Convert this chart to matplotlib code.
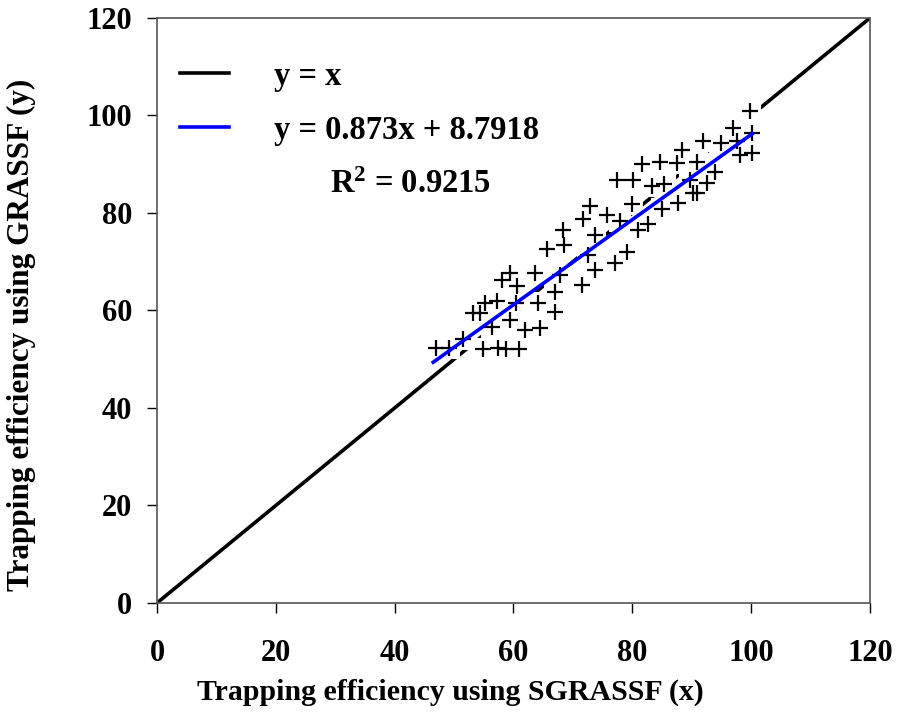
import matplotlib.pyplot as plt
import numpy as np

# values
sgrassf_x = [47.0, 49.2, 51.5, 54.9, 58.8, 60.9, 56.4, 59.4, 57.2, 60.4,
             60.6, 54.4, 64.5, 67.0, 67.0, 63.6, 67.8, 71.5, 65.7, 68.5,
             68.4, 71.7, 72.9, 73.7, 72.6, 73.7, 77.1, 77.9, 79.1, 77.4,
             80.1, 81.6, 84.7, 88.4, 91.9, 94.9, 97.6, 100.2, 90.9, 89.7,
             90.9, 87.7, 85.4, 83.3, 80.0, 85.0, 82.7,
             # points mostly hidden under their neighbours
             75.8, 81.0, 87.5, 92.6, 93.9, 90.2, 97.0, 99.8, 100.2, 98.1,
             59.4, 58.1, 55.2, 53.2, 64.1, 62.0, 57.4]
grassf_y = [52.3, 52.3, 54.2, 52.1, 52.1, 52.1, 56.6, 58.1, 61.9, 61.5,
            65.0, 59.5, 56.4, 59.7, 63.8, 67.7, 67.3, 65.2, 72.6, 73.4,
            76.5, 78.8, 81.4, 75.5, 71.4, 68.3, 69.7, 78.4, 72.0, 86.8,
            86.8, 90.1, 90.5, 92.9, 94.8, 94.4, 94.8, 96.4, 90.5, 86.8,
            84.1, 82.1, 86.0, 85.5, 81.8, 80.8, 77.7,
            79.6, 76.5, 90.3, 86.2, 88.4, 84.1, 97.4, 101.0, 92.3, 91.9,
            67.7, 66.3, 61.5, 59.5, 61.5, 56.0, 52.3]

slope = 0.873
intercept = 8.7918
r_squared = 0.9215

axis_ticks = [0, 20, 40, 60, 80, 100, 120]

FONT = "Liberation Serif"

plt.rcParams["font.family"] = FONT
plt.rcParams["font.weight"] = "bold"
plt.rcParams["mathtext.fontset"] = "custom"
plt.rcParams["mathtext.rm"] = "Liberation Serif:bold"
plt.rcParams["mathtext.bf"] = "Liberation Serif:bold"
plt.rcParams["mathtext.default"] = "bf"

fig = plt.figure(figsize=(8.99, 7.13), dpi=100)
ax = fig.add_axes([0.1746, 0.1543, 0.7931, 0.8205])

# 1:1 line
ax.plot([0, 120], [0, 120], color="black", lw=2.6, zorder=1, label="y = x")

# points: white boxes behind plus signs, as in the original
ax.scatter(sgrassf_x, grassf_y, marker="s", s=260, color="white",
           edgecolors="none", zorder=2)
ax.scatter(sgrassf_x, grassf_y, marker="+", s=120, color="black",
           linewidths=1.6, zorder=3)

# linear fit
fit_x = np.array([min(sgrassf_x) - 0.5, max(sgrassf_x)])
fit_y = slope * fit_x + intercept
ax.plot(fit_x, fit_y, color="#0000ff", lw=2.6, zorder=4,
        label=f"y = {slope}x + {intercept}")

ax.set_xlim(0, 120)
ax.set_ylim(0, 120)
ax.set_xticks(axis_ticks)
ax.set_yticks(axis_ticks)
ax.tick_params(direction="out", length=7, width=1, labelsize=22)
ax.tick_params(axis="x", pad=19)
ax.tick_params(axis="y", pad=11)
for lab in ax.get_xticklabels() + ax.get_yticklabels():
    lab.set_fontweight("bold")

for sp in ax.spines.values():
    sp.set_color("#555555")
    sp.set_linewidth(1.2)

ax.set_xlabel("Trapping efficiency using SGRASSF (x)", fontsize=21.5,
              fontweight="bold")
ax.set_ylabel("Trapping efficiency using GRASSF (y)", fontsize=22.5,
              fontweight="bold")
ax.xaxis.set_label_coords(0.412, -0.13)
ax.yaxis.set_label_coords(-0.17, 0.458)

ax.legend(loc="upper left", bbox_to_anchor=(0.0, 0.966), frameon=False,
          handlelength=1.5, handletextpad=1.4, labelspacing=0.7,
          borderaxespad=0.3,
          prop={"family": FONT, "weight": "bold", "size": 23.5})

ax.text(0.243, 0.7145, f"R$^{{2}}$ = {r_squared}", transform=ax.transAxes,
        fontsize=23.5, fontweight="bold", ha="left", va="center")

fig.savefig("out.png", dpi=100)
